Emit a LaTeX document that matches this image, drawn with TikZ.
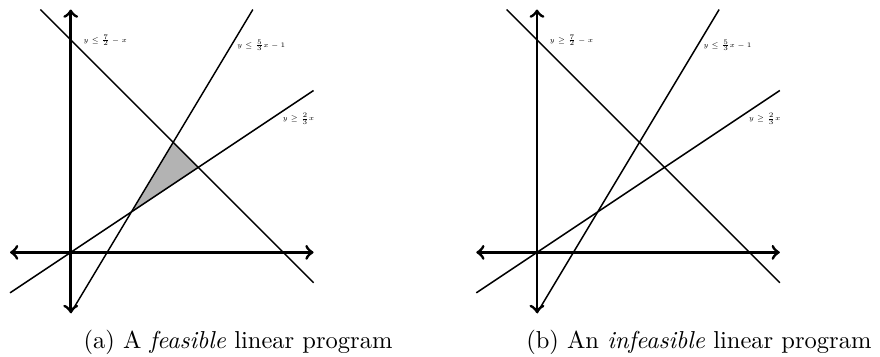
\documentclass[tikz,border=0pt]{standalone}
\usepackage{amsmath,amssymb}
\usepackage{xcolor}
\usepackage{tikz}
\usetikzlibrary{calc,arrows,positioning}
\definecolor{cShade}{RGB}{179,179,179}

\begin{document}
\begin{tikzpicture}[x=0.871cm,y=0.871cm,
    axis/.style={<->,>=to,very thick},
    bound/.style={semithick},
    lbl/.style={font=\tiny,scale=0.56,anchor=west}]
  \useasboundingbox (-1.165,-1.708) rectangle (13.33,4.157);
  % feasible region of (a)
  \fill[cShade] (1,2/3) -- (27/16,29/16) -- (2.1,1.4) -- cycle;
  \foreach \dx/\rel/\nm/\cx/\cap in {0/\leq/a/2.756/{(a) A \emph{feasible} linear program},
                                     7.68/\geq/b/2.666/{(b) An \emph{infeasible} linear program}} {
    \begin{scope}[shift={(\dx,0)}]
      \draw[bound] (-0.5,4) -- (4,-0.5);
      \draw[bound] (0,-1) -- (3,4);
      \draw[bound] (-1,-2/3) -- (4,8/3);
      \draw[axis] (-1,0) -- (4,0);
      \draw[axis] (0,-1) -- (0,4);
      \node[lbl] (c1\nm) at (0.13,3.49) {$y \rel \frac{7}{2}-x$};
      \node[lbl] (c2\nm) at (2.66,3.41) {$y \leq \frac{5}{3}x-1$};
      \node[lbl] (c3\nm) at (3.41,2.2) {$y \geq \frac{2}{3}x$};
      \node (cap\nm) at (\cx,-1.48) {\cap};
    \end{scope}
  }
\end{tikzpicture}
\end{document}
